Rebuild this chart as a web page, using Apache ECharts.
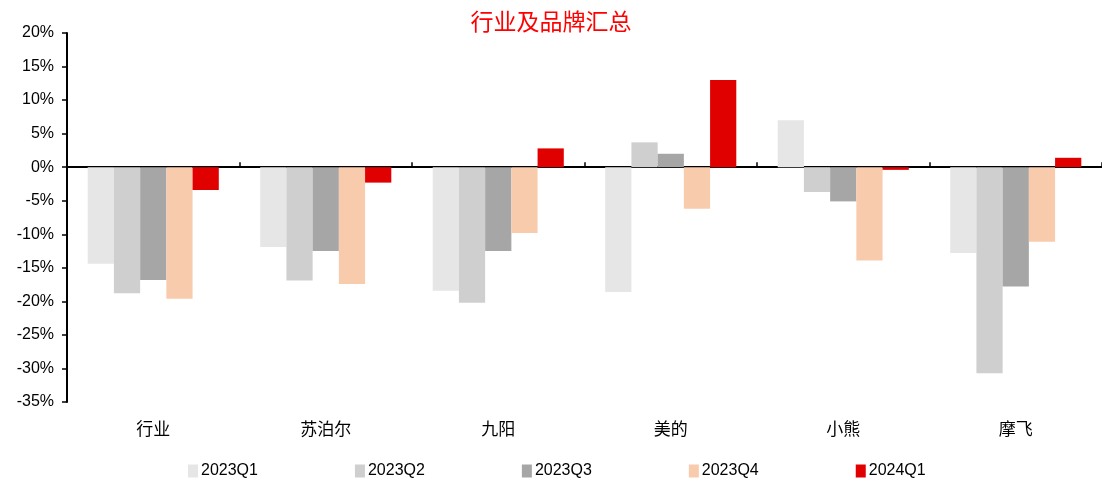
<!DOCTYPE html>
<html><head><meta charset="utf-8">
<script src="https://cdn.jsdelivr.net/npm/echarts@6/dist/echarts.min.js"></script>
<style>html,body{margin:0;padding:0;background:#fff}#c{width:1102px;height:485px}</style>
</head><body><div id="c"></div>
<script>
const categories = ['行业','苏泊尔','九阳','美的','小熊','摩飞'];
const seriesNames = ['2023Q1','2023Q2','2023Q3','2023Q4','2024Q1'];
const q1_2023 = [-14.4, -11.9, -18.4, -18.6, 7.0, -12.8];
const q2_2023 = [-18.8, -16.9, -20.2, 3.7, -3.7, -30.7];
const q3_2023 = [-16.8, -12.5, -12.5, 2.0, -5.1, -17.8];
const q4_2023 = [-19.6, -17.4, -9.8, -6.2, -13.9, -11.1];
const q1_2024 = [-3.4, -2.3, 2.8, 13.0, -0.4, 1.4];
const colors = ['#e6e6e6','#d0cfcf','#a6a6a6','#f8cbad','#e00000'];
const allValues = [q1_2023, q2_2023, q3_2023, q4_2023, q1_2024];

const chart = echarts.init(document.getElementById('c'));
const numFont = 'Liberation Sans, Arial, sans-serif';
chart.setOption({
  animation: false,
  title: {
    text: '行业及品牌汇总', left: 'center', top: 5,
    textStyle: {color: '#ff0000', fontSize: 23, fontWeight: 'normal', fontFamily: 'Noto Sans CJK SC'}
  },
  legend: {
    bottom: 1, left: 183, itemGap: 97, itemWidth: 10, itemHeight: 13,
    icon: 'rect',
    textStyle: {fontSize: 16, color: '#000', fontFamily: numFont, padding: [0,0,0,-2]},
    data: seriesNames
  },
  grid: {left: 67, right: -6, top: 33, bottom: 83, containLabel: false},
  xAxis: [{
    type: 'category', data: categories, position: 'bottom',
    axisLine: {onZero: true, lineStyle: {color: '#000', width: 2}},
    axisTick: {show: true, inside: true, length: 5, lineStyle: {color: '#000', width: 1.5}},
    axisLabel: {show: false}
  },{
    type: 'category', data: categories, position: 'bottom',
    axisLine: {show: false, onZero: false}, axisTick: {show: false},
    axisLabel: {show: true, margin: 18, fontSize: 17, color: '#000', fontFamily: 'Noto Sans CJK SC'}
  }],
  yAxis: {
    type: 'value', min: -35, max: 20, interval: 5,
    axisLine: {show: true, lineStyle: {color: '#000', width: 2}},
    axisTick: {show: true, length: 5, lineStyle: {color: '#000', width: 1.5}},
    splitLine: {show: false},
    axisLabel: {formatter: v => v + '%', fontSize: 16, color: '#000', fontFamily: numFont, margin: 13}
  },
  series: seriesNames.map((n, i) => ({
    name: n, type: 'bar', xAxisIndex: 0, data: allValues[i],
    itemStyle: {color: colors[i]},
    barGap: '0%', barCategoryGap: '24%'
  }))
});
</script></body></html>
